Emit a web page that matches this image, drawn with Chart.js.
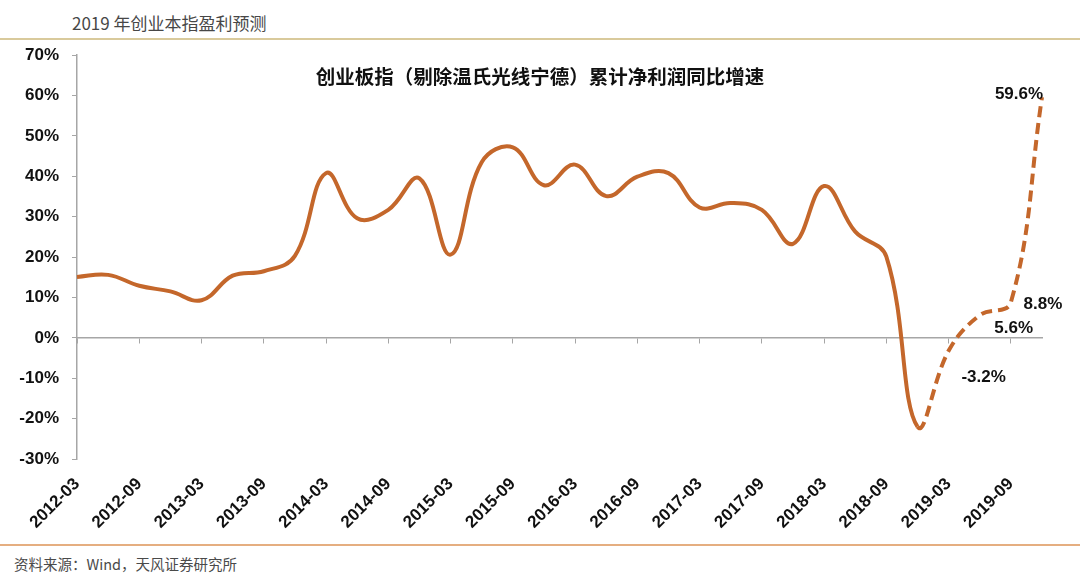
<!DOCTYPE html>
<html>
<head>
<meta charset="utf-8">
<script src="https://cdn.jsdelivr.net/npm/chart.js@4/dist/chart.umd.min.js"></script>
<style>
  html, body { margin: 0; padding: 0; background: #fff; }
  #page { position: relative; width: 1080px; height: 581px; overflow: hidden; }
  #header { position: absolute; left: 72px; top: 10px; font: 17px "Noto Sans CJK SC", sans-serif; color: #474747; }
  #topline { position: absolute; left: 0; top: 38px; width: 1080px; height: 2px; background: #D9CA9C; }
  #title { position: absolute; left: 0; width: 1080px; top: 61px; text-align: center; font: bold 19.5px "Noto Sans CJK SC", sans-serif; color: #111; }
  #bottomline { position: absolute; left: 0; top: 544px; width: 1080px; height: 1.5px; background: #E5AE80; }
  #source { position: absolute; left: 14px; top: 553px; font: 14.5px "Noto Sans CJK SC", sans-serif; color: #4a4a4a; }
  #wrap { position: absolute; left: 0; top: 32px; width: 1080px; height: 507px; }
</style>
</head>
<body>
<div id="page">
  <div id="header">2019 年创业本指盈利预测</div>
  <div id="topline"></div>
  <div id="wrap"><canvas id="lineChart"></canvas></div>
  <div id="title">创业板指（剔除温氏光线宁德）累计净利润同比增速</div>
  <div id="bottomline"></div>
  <div id="source">资料来源：Wind，天风证券研究所</div>
</div>
<script>
// 季度
var quarters = [
  '2012-03','2012-06','2012-09','2012-12',
  '2013-03','2013-06','2013-09','2013-12',
  '2014-03','2014-06','2014-09','2014-12',
  '2015-03','2015-06','2015-09','2015-12',
  '2016-03','2016-06','2016-09','2016-12',
  '2017-03','2017-06','2017-09','2017-12',
  '2018-03','2018-06','2018-09','2018-12',
  '2019-03','2019-06','2019-09','2019-12'
];

// 累计净利润同比增速 (%)，2019 年为预测
var growth = [
  15.1, 15.6, 12.9, 11.5,
  9.3, 15.4, 16.5, 20.3,
  40.8, 29.6, 31.7, 39.5,
  20.6, 43.5, 47.2, 37.8,
  42.9, 35.1, 39.9, 40.8,
  32.3, 33.4, 31.7, 23.3,
  37.6, 26.3, 20.1, -22.0,
  -3.2, 5.6, 8.8, 59.6
];

// 从这个点开始是预测（虚线）
var forecastFrom = 27;

// 只标注预测值
var pointLabels = [
  '', '', '', '', '', '', '', '',
  '', '', '', '', '', '', '', '',
  '', '', '', '', '', '', '', '',
  '', '', '', '',
  '-3.2%', '5.6%', '8.8%', '59.6%'
];

var yTicks = [-30, -20, -10, 0, 10, 20, 30, 40, 50, 60, 70];

var lineColor = '#C4672B';
var axisColor = '#A6A6A6';
var labelFont = { family: 'Liberation Sans, Arial, sans-serif', size: 17, weight: 'bold' };

// offsets (px) of each forecast label from its point
var labelOffsets = { 28: [35, 27], 29: [34, 13], 30: [32, 2], 31: [-23, -3] };

var pointLabelPlugin = {
  id: 'pointLabels',
  afterDatasetsDraw: function(chart) {
    var ctx = chart.ctx;
    var meta = chart.getDatasetMeta(0);
    ctx.save();
    ctx.font = 'bold 17px ' + labelFont.family;
    ctx.fillStyle = '#111';
    ctx.textAlign = 'center';
    ctx.textBaseline = 'middle';
    for (var i = 0; i < pointLabels.length; i++) {
      if (!pointLabels[i]) continue;
      var p = meta.data[i];
      var off = labelOffsets[i] || [0, -12];
      ctx.fillText(pointLabels[i], p.x + off[0], p.y + off[1]);
    }
    ctx.restore();
  }
};

var grafico = document.getElementById('lineChart');

var myLineChart = new Chart(grafico, {
  type: 'line',
  data: {
    labels: quarters,
    datasets: [
      {
        data: growth,
        borderColor: lineColor,
        borderWidth: 4,
        pointRadius: 0,
        tension: 0.4,
        fill: false,
        segment: {
          borderDash: function(c) { return c.p0DataIndex >= forecastFrom ? [11, 6] : undefined; }
        }
      }
    ]
  },
  options: {
    responsive: true,
    maintainAspectRatio: false,
    animation: false,
    layout: { padding: { top: 6, right: 38, left: 0, bottom: 0 } },
    plugins: {
      legend: { display: false },
      tooltip: { enabled: false }
    },
    scales: {
      x: {
        type: 'category',
        position: 'bottom',
        offset: false,
        grid: { display: false, drawTicks: false },
        border: { display: false },
        ticks: {
          autoSkip: false,
          minRotation: 45,
          maxRotation: 45,
          padding: 15,
          color: '#111',
          font: labelFont,
          callback: function(v, i) { return i % 2 === 0 ? quarters[i] : ''; }
        },
        afterFit: function(s) { s.height = 80; }
      },
      zero: {
        type: 'category',
        axis: 'x',
        position: { y: 0 },
        offset: false,
        grid: {
          drawOnChartArea: false,
          drawTicks: true,
          tickLength: 5,
          tickColor: function(c) { return c.index % 2 === 0 ? axisColor : 'rgba(0,0,0,0)'; }
        },
        border: { display: true, color: axisColor, width: 1.5 },
        ticks: { display: false }
      },
      y: {
        min: -30,
        max: 70,
        afterBuildTicks: function(s) { s.ticks = yTicks.map(function(v) { return { value: v }; }); },
        grid: { drawOnChartArea: false, drawTicks: true, tickLength: 5, tickColor: axisColor },
        border: { display: true, color: axisColor, width: 1.5 },
        ticks: {
          padding: 13,
          color: '#111',
          font: labelFont,
          callback: function(v) { return v + '%'; }
        },
        afterFit: function(s) { s.width = 77; }
      }
    }
  },
  plugins: [pointLabelPlugin]
});
</script>
</body>
</html>
